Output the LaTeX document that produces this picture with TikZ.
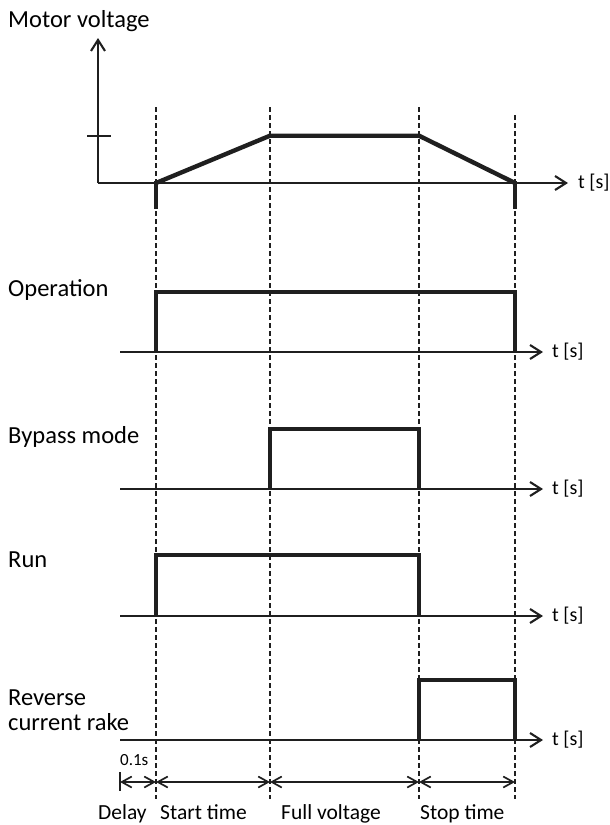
\documentclass[tikz,border=0pt]{standalone}
\usepackage{fontspec}
\setmainfont{Carlito}
\usetikzlibrary{arrows.meta}
\begin{document}
\begin{tikzpicture}[x=1pt,y=-1pt,
  axis/.style={line width=2.1pt, draw=black!88},
  axisarrow/.style={axis, -{Straight Barb[length=11pt,width=14pt,line width=2.1pt]}},
  sig/.style={line width=4.4pt, draw=black!88, line join=miter, line cap=butt},
  guide/.style={line width=1.6pt, draw=black!88, dash pattern=on 4.5pt off 3.5pt},
  dimarrow/.style={line width=1.7pt, draw=black!88, {Straight Barb[length=10pt,width=11pt,line width=1.7pt]}-{Straight Barb[length=10pt,width=11pt,line width=1.7pt]}},
  lbl/.style={inner sep=0pt, anchor=base west, font=\fontsize{24.5}{25}\selectfont},
  tlbl/.style={inner sep=0pt, anchor=west, font=\fontsize{20}{20}\selectfont},
  blbl/.style={inner sep=0pt, anchor=base west, font=\fontsize{21.5}{22}\selectfont},
  slbl/.style={inner sep=0pt, anchor=base west, font=\fontsize{17}{17}\selectfont}]
\useasboundingbox (0,0) rectangle (610,825);

% guide lines
\coordinate (g1t) at (156,107); \coordinate (g1b) at (156,799);
\coordinate (g2t) at (270,107); \coordinate (g2b) at (270,799);
\coordinate (g3t) at (419,107); \coordinate (g3b) at (419,799);
\coordinate (g4t) at (515,115); \coordinate (g4b) at (515,799);
\draw[guide] (g1t) -- (g1b);
\draw[guide] (g2t) -- (g2b);
\draw[guide] (g3t) -- (g3b);
\draw[guide] (g4t) -- (g4b);

% Motor voltage
\node[lbl] (mv) at (8,27) {Motor voltage};
\coordinate (o) at (98,183);
\coordinate (ytip) at (98,38);
\coordinate (xtip) at (568,183);
\draw[axisarrow] (o) -- (ytip);
\draw[axisarrow] (o) -- (xtip);
\node[tlbl] (t0) at (578,183) {t [s]};
\coordinate (tk1) at (87,135.7); \coordinate (tk2) at (111,135.7);
\draw[axis] (tk1) -- (tk2);
\coordinate (v1) at (156,183); \coordinate (v2) at (270,135.7);
\coordinate (v3) at (419,135.7); \coordinate (v4) at (515,183);
\draw[sig] (v1) -- (v2) -- (v3) -- (v4);
\coordinate (s1a) at (156,181); \coordinate (s1b) at (156,209);
\coordinate (s2a) at (515,181); \coordinate (s2b) at (515,209);
\draw[sig] (s1a) -- (s1b);
\draw[sig] (s2a) -- (s2b);

% Operation
\node[lbl] (op) at (8,296) {Operation};
\coordinate (opL) at (120,352); \coordinate (opR) at (543,352);
\draw[axisarrow] (opL) -- (opR);
\node[tlbl] (t1) at (552,352) {t [s]};
\draw[sig] (156,352) -- (156,292) -- (515,292) -- (515,352);

% Bypass mode
\node[lbl] (bp) at (8,443) {Bypass mode};
\coordinate (bpL) at (120,489); \coordinate (bpR) at (543,489);
\draw[axisarrow] (bpL) -- (bpR);
\node[tlbl] (t2) at (552,489) {t [s]};
\draw[sig] (270,489) -- (270,429) -- (419,429) -- (419,489);

% Run
\node[lbl] (run) at (8,567) {Run};
\coordinate (rnL) at (120,616); \coordinate (rnR) at (543,616);
\draw[axisarrow] (rnL) -- (rnR);
\node[tlbl] (t3) at (552,616) {t [s]};
\draw[sig] (156,616) -- (156,555) -- (419,555) -- (419,616);

% Reverse current rake
\node[lbl] (rv1) at (8,705) {Reverse};
\node[lbl] (rv2) at (8,730) {current rake};
\coordinate (rvL) at (120,740); \coordinate (rvR) at (543,740);
\draw[axisarrow] (rvL) -- (rvR);
\node[tlbl] (t4) at (552,740) {t [s]};
\draw[sig] (419,740) -- (419,680) -- (515,680) -- (515,740);

% dimension arrows
\node[slbl] (d01) at (120,765) {0.1s};
\coordinate (b1) at (120,772); \coordinate (b2) at (120,791);
\draw[line width=2pt, draw=black!88] (b1) -- (b2);
\coordinate (d0) at (120,782); \coordinate (d1) at (156,782);
\coordinate (d2) at (270,782); \coordinate (d3) at (419,782);
\coordinate (d4) at (515,782);
\draw[dimarrow] (d0) -- (d1);
\draw[dimarrow] (d1) -- (d2);
\draw[dimarrow] (d2) -- (d3);
\draw[dimarrow] (d3) -- (d4);

\node[blbl] (l1) at (98,819) {Delay};
\node[blbl] (l2) at (160,819) {Start time};
\node[blbl] (l3) at (281,819) {Full voltage};
\node[blbl] (l4) at (420,819) {Stop time};
\end{tikzpicture}
\end{document}
